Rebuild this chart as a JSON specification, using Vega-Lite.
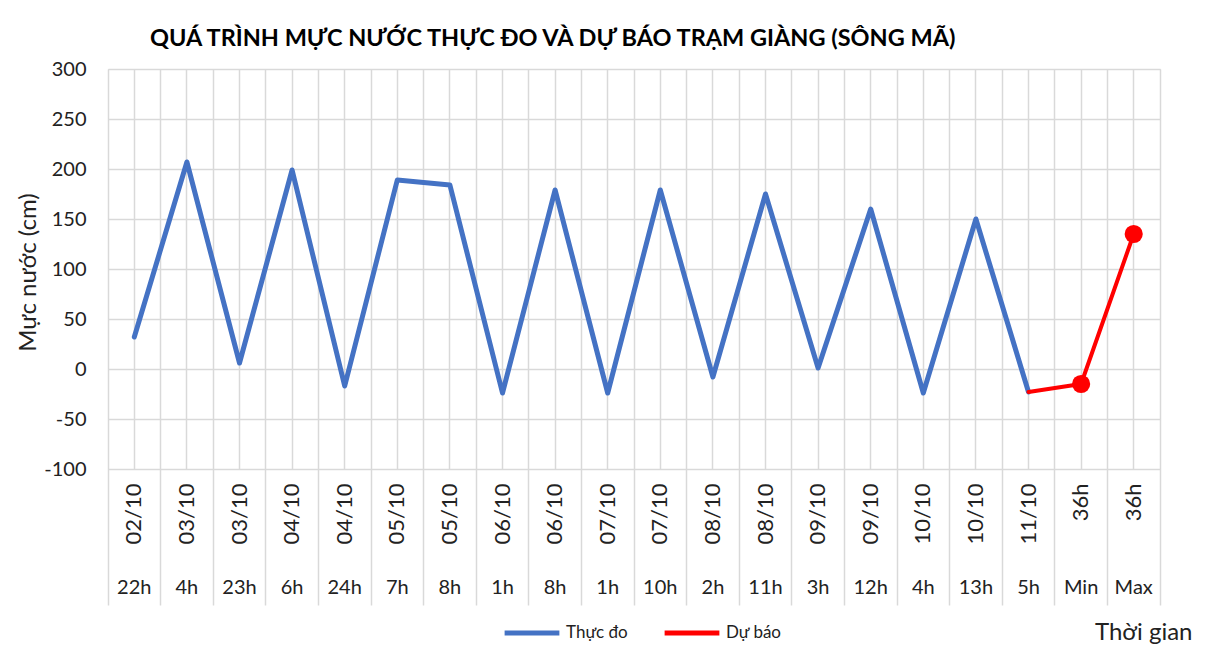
{
  "$schema": "https://vega.github.io/schema/vega-lite/v6.json",
  "width": 1052,
  "height": 400,
  "autosize": {"type": "none"},
  "padding": {"left": 108, "top": 69, "right": 57, "bottom": 178},
  "background": "white",
  "title": {
    "text": "QUÁ TRÌNH MỰC NƯỚC THỰC ĐO VÀ DỰ BÁO TRẠM GIÀNG (SÔNG MÃ)",
    "anchor": "start",
    "frame": "group",
    "dx": 42,
    "offset": 9,
    "font": "Lato",
    "fontSize": 23.5,
    "fontWeight": "bold",
    "color": "#000000"
  },
  "config": {
    "font": "Lato",
    "view": {"stroke": "#d9d9d9"},
    "axis": {"labelColor": "#222222", "titleColor": "#222222", "labelFont": "Lato", "titleFont": "Lato"}
  },
  "data": {
    "values": [
      {"cat": "02/10 22h", "series": "Thực đo", "value": 32},
      {"cat": "03/10 4h", "series": "Thực đo", "value": 207},
      {"cat": "03/10 23h", "series": "Thực đo", "value": 6},
      {"cat": "04/10 6h", "series": "Thực đo", "value": 199},
      {"cat": "04/10 24h", "series": "Thực đo", "value": -17},
      {"cat": "05/10 7h", "series": "Thực đo", "value": 189},
      {"cat": "05/10 8h", "series": "Thực đo", "value": 184},
      {"cat": "06/10 1h", "series": "Thực đo", "value": -24},
      {"cat": "06/10 8h", "series": "Thực đo", "value": 179},
      {"cat": "07/10 1h", "series": "Thực đo", "value": -24},
      {"cat": "07/10 10h", "series": "Thực đo", "value": 179},
      {"cat": "08/10 2h", "series": "Thực đo", "value": -8},
      {"cat": "08/10 11h", "series": "Thực đo", "value": 175},
      {"cat": "09/10 3h", "series": "Thực đo", "value": 1},
      {"cat": "09/10 12h", "series": "Thực đo", "value": 160},
      {"cat": "10/10 4h", "series": "Thực đo", "value": -24},
      {"cat": "10/10 13h", "series": "Thực đo", "value": 150},
      {"cat": "11/10 5h", "series": "Thực đo", "value": -23},
      {"cat": "11/10 5h", "series": "Dự báo", "value": -23},
      {"cat": "36h Min", "series": "Dự báo", "value": -15},
      {"cat": "36h Max", "series": "Dự báo", "value": 135}
    ]
  },
  "resolve": {"axis": {"x": "independent"}},
  "layer": [
    {
      "transform": [{"filter": "datum.series === 'Thực đo'"}],
      "mark": {"type": "line", "strokeWidth": 5, "strokeCap": "round", "strokeJoin": "round"},
      "encoding": {
        "x": {
          "field": "cat", "type": "nominal", "sort": null,
          "scale": {"type": "band", "paddingInner": 0, "paddingOuter": 0},
          "axis": {
            "orient": "bottom",
            "title": null, "labels": false, "domain": true, "domainColor": "#d9d9d9",
            "ticks": true, "tickColor": "#d9d9d9", "tickSize": 136, "tickWidth": 1.5,
            "grid": true, "gridColor": "#d9d9d9", "gridWidth": 1.5,
            "bandPosition": 1, "tickExtra": true
          }
        },
        "y": {
          "field": "value", "type": "quantitative",
          "scale": {"domain": [-100, 300], "nice": false, "zero": false},
          "axis": {
            "title": "Mực nước (cm)",
            "values": [-100, -50, 0, 50, 100, 150, 200, 250, 300],
            "labelExpr": "datum.value + ''",
            "grid": true, "gridColor": "#d9d9d9", "gridWidth": 1.5,
            "ticks": false, "domain": false,
            "labelPadding": 22, "labelFontSize": 20,
            "titleFontSize": 24, "titleFontWeight": "normal",
            "titleX": -80, "titleY": 203, "titleAngle": -90,
            "titleBaseline": "middle", "titleAlign": "center"
          }
        },
        "color": {
          "field": "series", "type": "nominal",
          "scale": {"domain": ["Thực đo", "Dự báo"], "range": ["#4472C4", "#FF0000"]},
          "legend": {
            "title": null, "orient": "none", "legendX": 394, "legendY": 534,
            "direction": "horizontal", "symbolType": "stroke", "symbolSize": 3000,
            "symbolStrokeWidth": 5, "labelFontSize": 17, "labelFont": "Lato",
            "labelColor": "#222222", "columnPadding": 26, "labelOffset": 4
          }
        }
      }
    },
    {
      "transform": [{"filter": "datum.series === 'Dự báo'"}],
      "mark": {"type": "line", "strokeWidth": 4, "strokeCap": "round", "strokeJoin": "round"},
      "encoding": {
        "x": {
          "field": "cat", "type": "nominal", "sort": null,
          "axis": {
            "orient": "bottom",
            "title": null, "grid": true, "gridColor": "#d9d9d9", "gridWidth": 1.5,
            "ticks": false, "domain": false, "bandPosition": 0.5,
            "labelExpr": "split(datum.label, ' ')[0]", "labelAngle": -90,
            "labelPadding": 14, "labelFontSize": 22, "labelOverlap": false
          }
        },
        "y": {"field": "value", "type": "quantitative"},
        "color": {"field": "series", "type": "nominal"}
      }
    },
    {
      "transform": [{"filter": "datum.series === 'Dự báo' && datum.cat !== '11/10 5h'"}],
      "mark": {"type": "point", "filled": true, "opacity": 1, "size": 330},
      "encoding": {
        "x": {
          "field": "cat", "type": "nominal", "sort": null,
          "axis": {
            "orient": "bottom",
            "title": "Thời gian", "grid": false, "ticks": false, "domain": false,
            "bandPosition": 0.5,
            "labelExpr": "split(datum.label, ' ')[1]", "labelAngle": 0,
            "labelPadding": 108, "labelFontSize": 20, "labelOverlap": false,
            "titleFontSize": 24, "titleFontWeight": "normal",
            "titleX": 1084, "titleY": 163, "titleAlign": "right", "titleBaseline": "middle"
          }
        },
        "y": {"field": "value", "type": "quantitative"},
        "color": {"field": "series", "type": "nominal"}
      }
    }
  ]
}
